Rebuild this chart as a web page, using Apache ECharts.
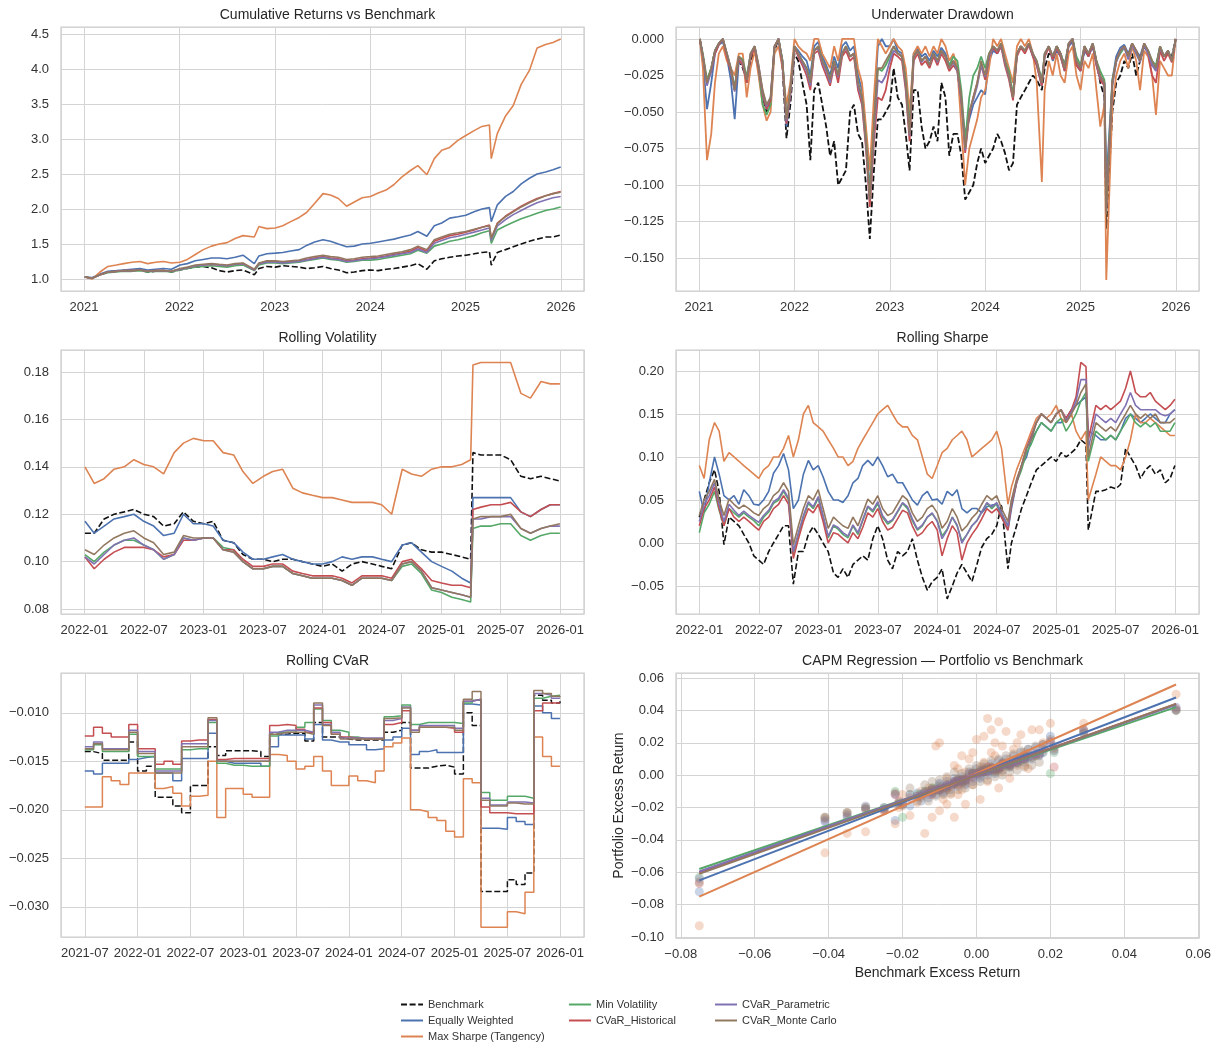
<!DOCTYPE html>
<html><head><meta charset="utf-8">
<script src="https://cdn.jsdelivr.net/npm/echarts@6/dist/echarts.min.js"></script>
<style>html,body{margin:0;padding:0;background:#fff}#c{width:1216px;height:1048px}</style>
</head><body><div id="c"></div><script>
const NAMES = ['Benchmark','Equally Weighted','Max Sharpe (Tangency)','Min Volatility','CVaR_Historical','CVaR_Parametric','CVaR_Monte Carlo'];
const COLORS = ['#111111','#4C72B0','#DD8452','#55A868','#C44E52','#8172B3','#937860'];

// ---------- Cumulative returns (monthly samples) ----------
const cumDates = ['2021-01-04','2021-02-01','2021-03-01','2021-04-01','2021-05-03','2021-06-01','2021-07-01','2021-08-02','2021-09-01','2021-10-01','2021-11-01','2021-12-01',
'2022-01-03','2022-02-01','2022-03-01','2022-04-01','2022-05-02','2022-06-01','2022-07-01','2022-08-01','2022-09-01','2022-10-14','2022-11-01','2022-12-01',
'2023-01-03','2023-02-01','2023-03-01','2023-04-03','2023-05-01','2023-06-01','2023-07-03','2023-08-01','2023-09-01','2023-10-02','2023-11-01','2023-12-01',
'2024-01-02','2024-02-01','2024-03-01','2024-04-01','2024-05-01','2024-06-03','2024-07-01','2024-08-05','2024-09-03','2024-10-01','2024-11-01','2024-12-02',
'2025-01-02','2025-02-03','2025-03-03','2025-04-01','2025-04-08','2025-05-01','2025-06-02','2025-07-01','2025-08-01','2025-09-02','2025-10-01','2025-11-03','2025-12-01','2025-12-31'];
const cumBench = [1.03,1.01,1.06,1.10,1.11,1.12,1.12,1.13,1.10,1.11,1.12,1.10, 1.13,1.15,1.17,1.18,1.16,1.12,1.10,1.12,1.13,1.06,1.15,1.18, 1.17,1.19,1.18,1.17,1.15,1.16,1.18,1.15,1.13,1.09,1.10,1.12, 1.13,1.12,1.14,1.15,1.17,1.19,1.22,1.14,1.26,1.29,1.31,1.33, 1.34,1.36,1.38,1.39,1.20,1.38,1.42,1.46,1.50,1.54,1.57,1.60,1.60,1.63];
const cumEW = [1.03,1.02,1.07,1.11,1.12,1.13,1.14,1.15,1.13,1.14,1.15,1.14, 1.20,1.22,1.26,1.28,1.30,1.30,1.29,1.31,1.34,1.22,1.33,1.36, 1.37,1.38,1.40,1.42,1.48,1.53,1.56,1.54,1.50,1.46,1.47,1.50, 1.51,1.53,1.55,1.57,1.60,1.63,1.68,1.61,1.76,1.80,1.87,1.89, 1.91,1.96,2.00,2.02,1.82,2.06,2.18,2.25,2.36,2.44,2.50,2.53,2.56,2.60];
const cumMS = [1.03,1.00,1.10,1.18,1.20,1.22,1.24,1.25,1.22,1.24,1.25,1.23, 1.24,1.28,1.35,1.42,1.47,1.50,1.52,1.58,1.62,1.60,1.75,1.72, 1.73,1.76,1.82,1.88,1.95,2.08,2.22,2.20,2.15,2.04,2.10,2.16, 2.18,2.23,2.27,2.35,2.46,2.55,2.62,2.49,2.72,2.84,2.88,2.98, 3.05,3.12,3.18,3.20,2.72,3.08,3.33,3.48,3.78,3.98,4.30,4.35,4.38,4.43];
const cumMV = [1.03,1.01,1.06,1.09,1.10,1.11,1.11,1.12,1.10,1.11,1.11,1.10, 1.13,1.15,1.17,1.18,1.19,1.18,1.17,1.19,1.20,1.12,1.20,1.23, 1.23,1.22,1.23,1.24,1.26,1.28,1.30,1.28,1.27,1.24,1.25,1.27, 1.27,1.28,1.30,1.32,1.34,1.36,1.41,1.37,1.47,1.50,1.54,1.56, 1.59,1.62,1.66,1.69,1.51,1.70,1.76,1.81,1.86,1.90,1.94,1.98,2.00,2.03];
const cumCH = [1.03,1.01,1.06,1.10,1.11,1.12,1.12,1.13,1.11,1.12,1.12,1.11, 1.14,1.16,1.19,1.20,1.21,1.20,1.19,1.21,1.22,1.13,1.22,1.25, 1.25,1.24,1.25,1.26,1.28,1.30,1.32,1.30,1.29,1.26,1.27,1.29, 1.30,1.31,1.33,1.35,1.37,1.40,1.45,1.40,1.54,1.58,1.62,1.64, 1.67,1.70,1.74,1.77,1.58,1.80,1.90,1.97,2.04,2.10,2.15,2.19,2.22,2.25];
const cumCP = [1.03,1.01,1.06,1.10,1.11,1.12,1.12,1.13,1.11,1.12,1.12,1.11, 1.14,1.16,1.19,1.20,1.21,1.20,1.19,1.21,1.22,1.13,1.22,1.24, 1.24,1.23,1.24,1.25,1.27,1.29,1.31,1.29,1.28,1.25,1.26,1.28, 1.29,1.30,1.32,1.34,1.36,1.38,1.43,1.38,1.51,1.55,1.59,1.61, 1.64,1.67,1.70,1.73,1.55,1.76,1.85,1.92,1.98,2.04,2.09,2.13,2.16,2.18];
const cumCM = [1.03,1.01,1.06,1.10,1.11,1.12,1.12,1.13,1.11,1.12,1.12,1.11, 1.15,1.17,1.20,1.21,1.22,1.21,1.20,1.22,1.23,1.14,1.23,1.26, 1.26,1.25,1.26,1.27,1.30,1.32,1.34,1.32,1.31,1.28,1.29,1.31, 1.32,1.33,1.35,1.37,1.39,1.42,1.47,1.42,1.56,1.60,1.64,1.66, 1.68,1.71,1.74,1.76,1.58,1.79,1.89,1.96,2.03,2.09,2.14,2.19,2.22,2.24];

// ---------- Semi-monthly dates (drawdown; rolling Sharpe uses from 2022) ----------
const semiDates = [
'2021-01-04','2021-01-16','2021-02-01','2021-02-16','2021-03-01','2021-03-16','2021-04-01','2021-04-16','2021-05-01','2021-05-16','2021-06-01','2021-06-16','2021-07-01','2021-07-16','2021-08-01','2021-08-16','2021-09-01','2021-09-16','2021-10-01','2021-10-16','2021-11-01','2021-11-16','2021-12-01','2021-12-16',
'2022-01-01','2022-01-16','2022-02-01','2022-02-16','2022-03-01','2022-03-16','2022-04-01','2022-04-16','2022-05-01','2022-05-16','2022-06-01','2022-06-16','2022-07-01','2022-07-16','2022-08-01','2022-08-16','2022-09-01','2022-09-16','2022-10-01','2022-10-16','2022-11-01','2022-11-16','2022-12-01','2022-12-16',
'2023-01-01','2023-01-16','2023-02-01','2023-02-16','2023-03-01','2023-03-16','2023-04-01','2023-04-16','2023-05-01','2023-05-16','2023-06-01','2023-06-16','2023-07-01','2023-07-16','2023-08-01','2023-08-16','2023-09-01','2023-09-16','2023-10-01','2023-10-16','2023-11-01','2023-11-16','2023-12-01','2023-12-16',
'2024-01-01','2024-01-16','2024-02-01','2024-02-16','2024-03-01','2024-03-16','2024-04-01','2024-04-16','2024-05-01','2024-05-16','2024-06-01','2024-06-16','2024-07-01','2024-07-16','2024-08-05','2024-08-16','2024-09-01','2024-09-16','2024-10-01','2024-10-16','2024-11-01','2024-11-16','2024-12-01','2024-12-16',
'2025-01-01','2025-01-16','2025-02-01','2025-02-16','2025-03-01','2025-03-16','2025-04-01','2025-04-08','2025-05-01','2025-05-16','2025-06-01','2025-06-16','2025-07-01','2025-07-16','2025-08-01','2025-08-16','2025-09-01','2025-09-16','2025-10-01','2025-10-16','2025-11-01','2025-11-16','2025-12-01','2025-12-16',
'2025-12-31'];

const ddBench = [0,-0.012,-0.030,-0.020,-0.008,-0.004,0,-0.012,-0.022,-0.035, -0.015,-0.020,-0.028,-0.015,-0.008,-0.022,-0.040,-0.050,-0.045,-0.008, 0,-0.020,-0.068,-0.045,-0.010,-0.015,-0.030,-0.045,-0.083,-0.035, -0.030,-0.045,-0.060,-0.080,-0.070,-0.100,-0.095,-0.090,-0.050,-0.045, -0.065,-0.070,-0.100,-0.137,-0.090,-0.055,-0.055,-0.050,-0.045,-0.020, -0.040,-0.045,-0.065,-0.090,-0.035,-0.035,-0.060,-0.075,-0.070,-0.060, -0.070,-0.030,-0.040,-0.080,-0.065,-0.065,-0.080,-0.110,-0.105,-0.100, -0.085,-0.075,-0.085,-0.080,-0.075,-0.065,-0.070,-0.078,-0.090,-0.085, -0.045,-0.040,-0.035,-0.030,-0.025,-0.028,-0.035,-0.020,-0.010,-0.012, -0.005,-0.010,-0.018,-0.004,0,-0.015,-0.020,-0.008,-0.010,-0.005, -0.015,-0.030,-0.040,-0.130,-0.050,-0.030,-0.025,-0.015,-0.020,-0.010, -0.025,-0.015,-0.005,-0.010,-0.018,-0.020,-0.008,-0.012,-0.010,-0.012, 0];
const ddEW = [0,-0.015,-0.048,-0.030,-0.010,-0.004,-0.002,-0.012,-0.028,-0.055, -0.015,-0.018,-0.030,-0.012,-0.006,-0.020,-0.038,-0.048,-0.042,-0.006, 0,-0.015,-0.060,-0.038,-0.005,-0.008,-0.012,-0.015,-0.025,-0.005, -0.002,-0.012,-0.018,-0.025,-0.012,-0.020,-0.005,-0.002,-0.008,-0.005, -0.025,-0.035,-0.065,-0.105,-0.050,-0.005,0,-0.005,-0.005,0, -0.008,-0.010,-0.025,-0.060,-0.010,-0.006,-0.012,-0.010,-0.015,-0.008, -0.012,-0.006,-0.010,-0.018,-0.015,-0.020,-0.045,-0.065,-0.055,-0.045, -0.040,-0.035,-0.038,-0.015,-0.008,-0.010,-0.005,-0.015,-0.025,-0.040, -0.010,-0.005,-0.008,-0.004,-0.012,-0.018,-0.032,-0.012,-0.005,-0.015, -0.008,-0.012,-0.022,-0.005,-0.002,-0.018,-0.022,-0.008,-0.012,-0.005, -0.018,-0.028,-0.030,-0.100,-0.028,-0.012,-0.006,-0.004,-0.010,-0.003, -0.008,-0.012,-0.003,-0.008,-0.018,-0.020,-0.005,-0.012,-0.008,-0.015, 0];
const ddMS = [0,-0.020,-0.083,-0.065,-0.030,-0.010,-0.005,-0.015,-0.020,-0.025, -0.010,-0.010,-0.040,-0.020,-0.008,-0.025,-0.045,-0.056,-0.050,-0.010, -0.005,-0.020,-0.045,-0.030,0,-0.005,-0.008,-0.010,-0.015,0, 0,-0.010,-0.015,-0.020,-0.005,-0.015,0,0,0,0, -0.020,-0.030,-0.060,-0.090,-0.040,0,-0.005,-0.010,-0.005,0, -0.005,-0.008,-0.020,-0.050,-0.010,-0.005,-0.010,-0.005,-0.012,-0.005, -0.010,0,-0.005,-0.015,-0.010,-0.020,-0.060,-0.100,-0.075,-0.065, -0.055,-0.040,-0.035,-0.020,0,-0.005,0,-0.010,-0.020,-0.030, -0.005,0,-0.005,0,-0.010,-0.030,-0.098,-0.035,-0.015,-0.025, -0.010,-0.025,-0.030,-0.010,-0.005,-0.025,-0.035,-0.015,-0.020,-0.010, -0.035,-0.060,-0.045,-0.165,-0.045,-0.025,-0.015,-0.010,-0.020,-0.005, -0.015,-0.035,-0.008,-0.012,-0.025,-0.052,-0.015,-0.020,-0.025,-0.025, 0];
const ddMV = [0,-0.010,-0.028,-0.020,-0.008,-0.003,0,-0.010,-0.020,-0.033, -0.012,-0.014,-0.026,-0.010,-0.005,-0.020,-0.045,-0.052,-0.045,-0.006, 0,-0.015,-0.055,-0.035,-0.005,-0.010,-0.015,-0.020,-0.028,-0.008, -0.005,-0.015,-0.020,-0.028,-0.015,-0.025,-0.010,-0.005,-0.012,-0.010, -0.030,-0.040,-0.068,-0.105,-0.060,-0.020,-0.022,-0.018,-0.012,-0.005, -0.010,-0.012,-0.028,-0.060,-0.012,-0.008,-0.015,-0.012,-0.018,-0.010, -0.015,-0.008,-0.012,-0.018,-0.012,-0.015,-0.035,-0.070,-0.040,-0.025, -0.020,-0.012,-0.020,-0.010,-0.005,-0.008,-0.003,-0.015,-0.022,-0.038, -0.010,-0.005,-0.008,-0.003,-0.010,-0.015,-0.028,-0.010,-0.005,-0.012, -0.005,-0.010,-0.018,-0.003,0,-0.012,-0.018,-0.005,-0.010,-0.003, -0.015,-0.022,-0.028,-0.110,-0.028,-0.015,-0.010,-0.006,-0.012,-0.004, -0.010,-0.015,-0.004,-0.008,-0.015,-0.018,-0.005,-0.012,-0.008,-0.014, 0];
const ddCH = [0,-0.012,-0.030,-0.022,-0.010,-0.004,0,-0.012,-0.022,-0.035, -0.014,-0.018,-0.030,-0.012,-0.006,-0.020,-0.038,-0.048,-0.042,-0.006, 0,-0.018,-0.058,-0.038,-0.006,-0.012,-0.018,-0.025,-0.035,-0.010, -0.008,-0.018,-0.025,-0.032,-0.018,-0.030,-0.012,-0.008,-0.015,-0.012, -0.035,-0.045,-0.075,-0.115,-0.070,-0.040,-0.042,-0.035,-0.020,-0.010, -0.012,-0.015,-0.035,-0.070,-0.015,-0.010,-0.018,-0.015,-0.020,-0.012, -0.018,-0.010,-0.015,-0.022,-0.018,-0.022,-0.042,-0.078,-0.052,-0.040, -0.030,-0.018,-0.028,-0.012,-0.006,-0.010,-0.005,-0.018,-0.028,-0.042, -0.012,-0.006,-0.010,-0.004,-0.012,-0.018,-0.032,-0.012,-0.006,-0.014, -0.006,-0.012,-0.022,-0.004,0,-0.018,-0.022,-0.006,-0.012,-0.004, -0.018,-0.028,-0.032,-0.118,-0.030,-0.015,-0.008,-0.005,-0.012,-0.003, -0.008,-0.015,-0.003,-0.010,-0.025,-0.030,-0.008,-0.015,-0.010,-0.016, 0];
const ddCP = [0,-0.012,-0.032,-0.022,-0.008,-0.003,0,-0.010,-0.020,-0.036, -0.012,-0.016,-0.028,-0.010,-0.005,-0.018,-0.036,-0.046,-0.040,-0.005, 0,-0.016,-0.056,-0.036,-0.005,-0.010,-0.016,-0.022,-0.032,-0.008, -0.006,-0.016,-0.022,-0.030,-0.016,-0.026,-0.010,-0.006,-0.012,-0.010, -0.032,-0.042,-0.072,-0.110,-0.065,-0.028,-0.030,-0.025,-0.015,-0.008, -0.010,-0.012,-0.032,-0.066,-0.012,-0.008,-0.016,-0.012,-0.018,-0.010, -0.016,-0.008,-0.012,-0.020,-0.016,-0.022,-0.042,-0.076,-0.050,-0.042, -0.032,-0.018,-0.026,-0.012,-0.005,-0.008,-0.004,-0.016,-0.026,-0.040, -0.010,-0.005,-0.008,-0.003,-0.010,-0.016,-0.030,-0.010,-0.005,-0.012, -0.005,-0.010,-0.020,-0.003,0,-0.015,-0.020,-0.005,-0.010,-0.003, -0.016,-0.026,-0.030,-0.115,-0.032,-0.016,-0.008,-0.006,-0.014,-0.004, -0.010,-0.016,-0.004,-0.010,-0.018,-0.022,-0.006,-0.012,-0.008,-0.015, 0];
const ddCM = [0,-0.012,-0.030,-0.020,-0.008,-0.003,0,-0.010,-0.020,-0.035, -0.012,-0.015,-0.028,-0.010,-0.005,-0.018,-0.035,-0.045,-0.040,-0.005, 0,-0.015,-0.055,-0.035,-0.005,-0.010,-0.015,-0.020,-0.030,-0.008, -0.005,-0.015,-0.020,-0.028,-0.015,-0.025,-0.010,-0.005,-0.012,-0.010, -0.030,-0.040,-0.070,-0.110,-0.060,-0.020,-0.020,-0.015,-0.010,-0.005, -0.010,-0.012,-0.030,-0.065,-0.012,-0.008,-0.015,-0.012,-0.018,-0.010, -0.015,-0.008,-0.012,-0.020,-0.015,-0.020,-0.040,-0.075,-0.050,-0.040, -0.030,-0.015,-0.025,-0.010,-0.005,-0.008,-0.003,-0.015,-0.025,-0.040, -0.010,-0.005,-0.008,-0.003,-0.010,-0.015,-0.030,-0.010,-0.005,-0.012, -0.005,-0.010,-0.020,-0.003,0,-0.015,-0.020,-0.005,-0.010,-0.003, -0.015,-0.025,-0.030,-0.120,-0.030,-0.015,-0.008,-0.005,-0.012,-0.003, -0.008,-0.015,-0.003,-0.008,-0.015,-0.020,-0.005,-0.012,-0.008,-0.015, 0];

// ---------- Rolling volatility ----------
const volDates = ['2022-01-03','2022-02-01','2022-03-01','2022-04-01','2022-05-02','2022-06-01','2022-07-01','2022-08-01','2022-09-01','2022-10-03','2022-11-01','2022-12-01',
'2023-01-03','2023-02-01','2023-03-01','2023-04-03','2023-05-01','2023-06-01','2023-07-03','2023-08-01','2023-09-01','2023-10-02','2023-11-01','2023-12-01',
'2024-01-02','2024-02-01','2024-03-01','2024-04-01','2024-05-01','2024-06-03','2024-07-01','2024-08-01','2024-09-03','2024-10-01','2024-11-01','2024-12-02',
'2025-01-02','2025-02-03','2025-03-03','2025-03-31','2025-04-07','2025-05-01','2025-06-02','2025-07-01','2025-08-01','2025-09-02','2025-10-01','2025-11-03','2025-12-01','2025-12-31'];
const volBench = [0.112,0.112,0.118,0.120,0.121,0.122,0.120,0.119,0.115,0.116, 0.121,0.117,0.116,0.117,0.109,0.108,0.103,0.101,0.101,0.100, 0.101,0.101,0.100,0.099,0.098,0.099,0.096,0.099,0.100,0.099, 0.098,0.097,0.107,0.108,0.105,0.104,0.104,0.103,0.102, 0.101,0.146, 0.145,0.145,0.145,0.143,0.136,0.135,0.136,0.135, 0.134];
const volEW = [0.117,0.112,0.115,0.118,0.119,0.120,0.117,0.115,0.111,0.112, 0.120,0.116,0.116,0.115,0.109,0.108,0.104,0.101,0.101,0.102, 0.103,0.101,0.100,0.099,0.099,0.100,0.102,0.101,0.102,0.102, 0.101,0.100,0.107,0.108,0.104,0.100,0.098,0.096,0.093, 0.091,0.127, 0.127,0.127,0.127,0.127,0.121,0.119,0.122,0.124, 0.124];
const volMS = [0.140,0.133,0.135,0.139,0.140,0.143,0.141,0.140,0.137,0.146, 0.150,0.152,0.151,0.151,0.146,0.145,0.138,0.133,0.136,0.138, 0.139,0.131,0.129,0.128,0.127,0.127,0.126,0.125,0.125,0.125, 0.124,0.120,0.139,0.137,0.136,0.139,0.140,0.140,0.141, 0.143,0.183, 0.184,0.184,0.184,0.184,0.171,0.169,0.176,0.175, 0.175];
const volMV = [0.103,0.100,0.104,0.107,0.109,0.109,0.107,0.105,0.101,0.103, 0.110,0.109,0.110,0.110,0.106,0.105,0.100,0.097,0.097,0.098, 0.098,0.095,0.094,0.093,0.093,0.093,0.092,0.090,0.093,0.093, 0.093,0.092,0.098,0.099,0.095,0.088,0.087,0.085,0.084, 0.083,0.114, 0.115,0.115,0.116,0.116,0.111,0.109,0.111,0.112, 0.112];
const volCH = [0.102,0.097,0.101,0.104,0.106,0.106,0.106,0.105,0.102,0.103, 0.109,0.109,0.110,0.110,0.105,0.105,0.101,0.098,0.098,0.099, 0.099,0.096,0.095,0.094,0.094,0.094,0.093,0.091,0.094,0.094, 0.094,0.093,0.100,0.101,0.097,0.092,0.091,0.090,0.090, 0.089,0.122, 0.123,0.124,0.124,0.125,0.121,0.119,0.122,0.124, 0.124];
const volCP = [0.102,0.099,0.103,0.107,0.109,0.110,0.107,0.105,0.101,0.103, 0.110,0.109,0.110,0.110,0.105,0.104,0.100,0.097,0.097,0.098, 0.098,0.095,0.094,0.093,0.093,0.093,0.092,0.090,0.093,0.093, 0.093,0.092,0.099,0.100,0.096,0.089,0.088,0.087,0.086, 0.085,0.118, 0.118,0.119,0.119,0.119,0.114,0.112,0.114,0.115, 0.115];
const volCM = [0.105,0.103,0.107,0.110,0.112,0.113,0.110,0.108,0.103,0.104, 0.111,0.110,0.110,0.110,0.105,0.104,0.100,0.097,0.097,0.098, 0.098,0.095,0.094,0.093,0.093,0.093,0.092,0.090,0.093,0.093, 0.093,0.092,0.099,0.100,0.096,0.089,0.088,0.087,0.086, 0.085,0.118, 0.119,0.119,0.119,0.120,0.114,0.112,0.114,0.115, 0.116];

// ---------- Rolling Sharpe (semi-monthly from 2022) ----------
const shBench = [0.030,0.050,0.070,0.085,0.060,-0.002,0.030,0.025,0.020,0.010, 0.000,-0.015,-0.020,-0.025,-0.010,0.000,0.010,0.020,0.020,-0.048, -0.010,-0.010,0.010,0.019,0.010,0.000,-0.010,-0.035,-0.040,-0.030, -0.040,-0.025,-0.020,-0.015,-0.020,0.005,0.020,0.005,-0.020,-0.030, -0.010,-0.015,-0.010,0.005,-0.020,-0.040,-0.055,-0.045,-0.040,-0.030, -0.065,-0.050,-0.035,-0.025,-0.035,-0.045,-0.025,-0.005,0.005,0.010, 0.020,0.045,-0.030,0.000,0.020,0.040,0.055,0.070,0.085,0.090, 0.095,0.100,0.095,0.105,0.100,0.105,0.110,0.120,0.115,0.015, 0.060,0.060,0.062,0.065,0.063,0.068,0.110,0.100,0.090,0.075, 0.085,0.090,0.080,0.085,0.070,0.075,0.090];
const shEW = [0.060,0.035,0.070,0.100,0.080,0.055,0.050,0.055,0.045,0.062, 0.055,0.045,0.044,0.050,0.060,0.081,0.090,0.104,0.085,0.040, 0.050,0.080,0.096,0.085,0.090,0.077,0.060,0.050,0.050,0.047, 0.055,0.070,0.075,0.090,0.096,0.090,0.100,0.090,0.077,0.080, 0.070,0.070,0.060,0.050,0.044,0.055,0.060,0.050,0.051,0.045, 0.060,0.055,0.062,0.040,0.035,0.040,0.040,0.035,0.042,0.044, 0.045,0.030,0.015,0.040,0.070,0.090,0.100,0.120,0.130,0.140, 0.135,0.130,0.140,0.140,0.145,0.155,0.160,0.165,0.170,0.130, 0.125,0.120,0.120,0.125,0.120,0.130,0.145,0.150,0.145,0.140, 0.145,0.150,0.145,0.140,0.140,0.150,0.155];
const shMS = [0.090,0.075,0.120,0.140,0.130,0.095,0.105,0.100,0.095,0.090, 0.085,0.080,0.075,0.085,0.090,0.100,0.100,0.110,0.125,0.100, 0.120,0.150,0.160,0.140,0.135,0.130,0.120,0.110,0.100,0.100, 0.090,0.095,0.110,0.120,0.130,0.140,0.150,0.155,0.160,0.150, 0.140,0.135,0.135,0.125,0.120,0.100,0.080,0.075,0.090,0.105, 0.110,0.120,0.125,0.130,0.120,0.100,0.105,0.110,0.115,0.120, 0.130,0.110,0.045,0.065,0.085,0.100,0.115,0.130,0.145,0.150, 0.145,0.150,0.160,0.145,0.140,0.150,0.130,0.120,0.130,0.050, 0.080,0.100,0.095,0.090,0.090,0.085,0.100,0.120,0.150,0.140, 0.140,0.145,0.140,0.135,0.130,0.125,0.125];
const shMV = [0.012,0.035,0.045,0.060,0.038,0.020,0.040,0.035,0.030,0.035, 0.030,0.026,0.020,0.030,0.036,0.046,0.050,0.060,0.050,-0.012, 0.010,0.030,0.046,0.040,0.052,0.030,0.006,0.020,0.016,0.010, 0.006,0.020,0.010,0.026,0.042,0.036,0.046,0.030,0.022,0.026, 0.036,0.046,0.040,0.026,0.015,0.020,0.030,0.034,0.026,0.008, 0.016,0.030,0.020,0.002,0.010,0.020,0.026,0.036,0.046,0.040, 0.046,0.034,0.020,0.045,0.070,0.085,0.105,0.115,0.130,0.140, 0.135,0.130,0.140,0.145,0.130,0.140,0.150,0.165,0.175,0.095, 0.130,0.125,0.120,0.125,0.120,0.130,0.140,0.150,0.140,0.135, 0.140,0.135,0.140,0.130,0.130,0.130,0.140];
const shCH = [0.020,0.040,0.050,0.065,0.040,0.020,0.040,0.030,0.025,0.030, 0.025,0.020,0.015,0.025,0.030,0.040,0.045,0.055,0.045,-0.018, 0.005,0.025,0.040,0.035,0.045,0.025,0.000,0.012,0.010,0.005, 0.000,0.012,0.005,0.018,0.035,0.030,0.040,0.025,0.015,0.018, 0.028,0.038,0.035,0.020,0.008,0.012,0.020,0.025,0.015,-0.015, 0.005,0.020,0.012,-0.020,0.000,0.010,0.018,0.028,0.040,0.035, 0.040,0.030,0.015,0.045,0.070,0.090,0.110,0.125,0.140,0.150, 0.145,0.140,0.150,0.155,0.145,0.155,0.170,0.210,0.205,0.120, 0.160,0.155,0.160,0.155,0.160,0.165,0.180,0.200,0.175,0.170, 0.170,0.175,0.165,0.160,0.155,0.160,0.167];
const shCP = [0.025,0.045,0.055,0.070,0.045,0.025,0.045,0.038,0.032,0.037, 0.032,0.028,0.024,0.032,0.038,0.048,0.052,0.062,0.052,-0.010, 0.012,0.032,0.048,0.042,0.054,0.032,0.008,0.021,0.018,0.012, 0.008,0.021,0.012,0.027,0.043,0.038,0.048,0.032,0.024,0.027, 0.037,0.047,0.042,0.028,0.016,0.021,0.030,0.035,0.025,0.005, 0.015,0.030,0.021,0.000,0.010,0.020,0.026,0.036,0.047,0.042, 0.047,0.035,0.020,0.048,0.072,0.090,0.110,0.122,0.140,0.150, 0.145,0.140,0.150,0.155,0.142,0.152,0.165,0.190,0.190,0.110, 0.150,0.145,0.140,0.145,0.140,0.150,0.160,0.175,0.160,0.155, 0.155,0.155,0.155,0.150,0.148,0.150,0.155];
const shCM = [0.032,0.050,0.060,0.074,0.050,0.032,0.051,0.045,0.040,0.044, 0.040,0.035,0.032,0.040,0.045,0.055,0.060,0.070,0.060,-0.002, 0.020,0.040,0.055,0.050,0.062,0.040,0.017,0.030,0.025,0.020, 0.017,0.030,0.020,0.035,0.051,0.045,0.055,0.040,0.032,0.035, 0.045,0.055,0.050,0.035,0.025,0.030,0.040,0.044,0.035,0.017, 0.025,0.040,0.030,0.014,0.020,0.029,0.035,0.045,0.055,0.050, 0.055,0.040,0.025,0.050,0.074,0.090,0.110,0.120,0.140,0.150, 0.145,0.140,0.150,0.155,0.140,0.150,0.160,0.175,0.185,0.100, 0.140,0.135,0.130,0.135,0.130,0.140,0.150,0.160,0.150,0.145, 0.150,0.145,0.150,0.140,0.140,0.140,0.145];

// ---------- Rolling CVaR (monthly, step) ----------
const cvDates = ['2021-07-01','2021-08-01','2021-09-01','2021-10-01','2021-11-01','2021-12-01',
'2022-01-01','2022-02-01','2022-03-01','2022-04-01','2022-05-01','2022-06-01','2022-07-01','2022-08-01','2022-09-01','2022-10-01','2022-11-01','2022-12-01',
'2023-01-01','2023-02-01','2023-03-01','2023-04-01','2023-05-01','2023-06-01','2023-07-01','2023-08-01','2023-09-01','2023-10-01','2023-11-01','2023-12-01',
'2024-01-01','2024-02-01','2024-03-01','2024-04-01','2024-05-01','2024-06-01','2024-07-01','2024-08-01','2024-09-01','2024-10-01','2024-11-01','2024-12-01',
'2025-01-01','2025-02-01','2025-03-01','2025-04-01','2025-05-01','2025-06-01','2025-07-01','2025-08-01','2025-09-01','2025-10-01','2025-11-01','2025-12-01','2025-12-31'];
const cvBench = [-0.0140,-0.0142,-0.0149,-0.0149,-0.0149,-0.0130,-0.0160,-0.0155,-0.0187,-0.0187, -0.0196,-0.0203,-0.0175,-0.0175,-0.0135,-0.0144,-0.0139,-0.0139,-0.0139,-0.0140, -0.0145,-0.0122,-0.0122,-0.0121,-0.0121,-0.0129,-0.0110,-0.0125,-0.0125,-0.0127, -0.0128,-0.0128,-0.0128,-0.0128,-0.0120,-0.0118,-0.0110,-0.0157,-0.0157,-0.0155, -0.0154,-0.0156,-0.0163,-0.0100,-0.0113,-0.0284,-0.0284,-0.0284,-0.0272,-0.0277, -0.0265,-0.0082,-0.0087,-0.0090,-0.0088];
const cvEW = [-0.0160,-0.0163,-0.0152,-0.0152,-0.0152,-0.0148,-0.0146,-0.0145,-0.0162,-0.0162, -0.0170,-0.0147,-0.0147,-0.0147,-0.0121,-0.0150,-0.0152,-0.0152,-0.0152,-0.0152, -0.0155,-0.0135,-0.0123,-0.0123,-0.0123,-0.0127,-0.0112,-0.0128,-0.0130,-0.0130, -0.0133,-0.0133,-0.0138,-0.0137,-0.0128,-0.0125,-0.0116,-0.0143,-0.0140,-0.0138, -0.0141,-0.0141,-0.0141,-0.0091,-0.0092,-0.0219,-0.0219,-0.0220,-0.0208,-0.0212, -0.0215,-0.0093,-0.0100,-0.0106,-0.0106];
const cvMS = [-0.0197,-0.0197,-0.0166,-0.0170,-0.0174,-0.0162,-0.0162,-0.0162,-0.0178,-0.0176, -0.0183,-0.0196,-0.0186,-0.0185,-0.0150,-0.0208,-0.0178,-0.0178,-0.0184,-0.0187, -0.0187,-0.0143,-0.0144,-0.0150,-0.0158,-0.0155,-0.0145,-0.0160,-0.0175,-0.0175, -0.0165,-0.0170,-0.0172,-0.0160,-0.0135,-0.0131,-0.0126,-0.0200,-0.0202,-0.0208, -0.0211,-0.0222,-0.0228,-0.0168,-0.0172,-0.0321,-0.0321,-0.0321,-0.0305,-0.0307, -0.0285,-0.0125,-0.0145,-0.0155,-0.0155];
const cvMV = [-0.0138,-0.0133,-0.0140,-0.0140,-0.0140,-0.0122,-0.0145,-0.0145,-0.0158,-0.0158, -0.0158,-0.0138,-0.0137,-0.0137,-0.0110,-0.0152,-0.0154,-0.0154,-0.0155,-0.0155, -0.0155,-0.0124,-0.0120,-0.0120,-0.0115,-0.0110,-0.0096,-0.0108,-0.0118,-0.0120, -0.0125,-0.0127,-0.0127,-0.0127,-0.0104,-0.0103,-0.0092,-0.0112,-0.0110,-0.0110, -0.0110,-0.0110,-0.0111,-0.0090,-0.0087,-0.0182,-0.0190,-0.0190,-0.0186,-0.0186, -0.0188,-0.0085,-0.0083,-0.0082,-0.0082];
const cvCH = [-0.0124,-0.0115,-0.0121,-0.0125,-0.0125,-0.0112,-0.0137,-0.0137,-0.0153,-0.0150, -0.0153,-0.0129,-0.0128,-0.0128,-0.0107,-0.0148,-0.0147,-0.0147,-0.0147,-0.0147, -0.0147,-0.0113,-0.0112,-0.0113,-0.0117,-0.0120,-0.0095,-0.0110,-0.0122,-0.0125, -0.0126,-0.0127,-0.0127,-0.0127,-0.0112,-0.0110,-0.0098,-0.0118,-0.0115,-0.0115, -0.0115,-0.0116,-0.0120,-0.0088,-0.0086,-0.0197,-0.0203,-0.0203,-0.0204,-0.0204, -0.0204,-0.0098,-0.0090,-0.0090,-0.0090];
const cvCP = [-0.0135,-0.0130,-0.0137,-0.0137,-0.0137,-0.0118,-0.0140,-0.0140,-0.0160,-0.0160, -0.0160,-0.0132,-0.0132,-0.0132,-0.0108,-0.0150,-0.0150,-0.0150,-0.0150,-0.0150, -0.0150,-0.0120,-0.0118,-0.0118,-0.0118,-0.0120,-0.0092,-0.0112,-0.0120,-0.0126, -0.0126,-0.0126,-0.0126,-0.0126,-0.0108,-0.0106,-0.0094,-0.0118,-0.0113,-0.0113, -0.0113,-0.0113,-0.0116,-0.0088,-0.0086,-0.0188,-0.0195,-0.0195,-0.0192,-0.0192, -0.0193,-0.0080,-0.0082,-0.0085,-0.0085];
const cvCM = [-0.0137,-0.0132,-0.0138,-0.0138,-0.0138,-0.0120,-0.0142,-0.0142,-0.0162,-0.0162, -0.0162,-0.0135,-0.0135,-0.0135,-0.0105,-0.0150,-0.0150,-0.0150,-0.0150,-0.0150, -0.0150,-0.0122,-0.0120,-0.0120,-0.0120,-0.0122,-0.0090,-0.0113,-0.0122,-0.0127, -0.0127,-0.0127,-0.0127,-0.0127,-0.0106,-0.0105,-0.0095,-0.0120,-0.0115,-0.0115, -0.0115,-0.0115,-0.0118,-0.0086,-0.0078,-0.0190,-0.0196,-0.0196,-0.0193,-0.0194, -0.0194,-0.0077,-0.0080,-0.0083,-0.0084];

// ---------- CAPM regression ----------
const capmX = [-0.075,-0.041,-0.035,-0.030,-0.025,-0.022,-0.021,-0.020,-0.018,-0.016, -0.015,-0.014,-0.013,-0.012,-0.011,-0.010,-0.009,-0.008,-0.007,-0.006, -0.005,-0.004,-0.003,-0.002,-0.001,0.000,0.001,0.002,0.003,0.004, 0.005,0.006,0.007,0.008,0.009,0.010,0.011,0.012,0.013,0.014, 0.015,0.016,0.017,0.018,0.020,0.021,0.029,0.054,-0.012,-0.008, -0.005,-0.003,-0.001,0.001,0.003,0.005,0.007,0.009,0.011,0.004, -0.006,-0.010,0.002,0.006,0.013,-0.004];
const capmEW = [-0.072,-0.029,-0.026,-0.021,-0.021,-0.028,-0.018,-0.018,-0.019,-0.011, -0.016,-0.010,-0.014,-0.009,-0.012,-0.005,-0.011,-0.004,-0.009,-0.002, -0.007,-0.001,-0.006,0.002,-0.004,0.004,-0.002,0.005,0.000,0.007, 0.001,0.009,0.003,0.010,0.005,0.012,0.007,0.014,0.008,0.016, 0.010,0.017,0.012,0.019,0.024,0.018,0.028,0.042,-0.010,-0.007, -0.004,-0.002,0.001,0.002,0.003,0.004,0.007,0.007,0.010,0.004, -0.005,-0.009,0.002,0.005,0.012,-0.003];
const capmMS = [-0.093,-0.048,-0.036,-0.035,-0.022,-0.030,-0.020,-0.012,-0.025,-0.017, -0.010,-0.036,-0.008,-0.026,0.018,0.020,-0.015,-0.002,-0.012,-0.026, 0.004,-0.009,-0.018,0.010,-0.006,0.022,-0.015,0.008,0.035,0.028, 0.012,0.033,0.002,0.027,0.010,0.016,0.006,0.025,0.014,0.004, 0.028,0.012,0.028,0.020,0.032,0.017,0.032,0.050,-0.010,-0.018, -0.012,0.002,0.014,0.005,-0.004,0.020,0.018,-0.002,0.020,0.014, 0.006,-0.022,0.024,-0.008,0.006,0.012];
const capmMV = [-0.063,-0.026,-0.023,-0.020,-0.020,-0.010,-0.017,-0.026,-0.012,-0.012, -0.012,-0.010,-0.010,-0.011,-0.008,-0.007,-0.008,-0.006,-0.006,-0.004, -0.004,-0.003,-0.003,0.000,-0.001,0.001,0.000,0.002,0.002,0.003, 0.004,0.005,0.005,0.006,0.007,0.008,0.008,0.009,0.010,0.011, 0.011,0.012,0.013,0.014,0.001,0.014,0.026,0.040,-0.008,-0.007, -0.003,-0.003,0.001,0.002,0.003,0.003,0.006,0.006,0.008,0.004, -0.005,-0.008,0.002,0.004,0.010,-0.004];
const capmCH = [-0.067,-0.026,-0.023,-0.021,-0.022,-0.012,-0.016,-0.018,-0.014,-0.013, -0.013,-0.011,-0.010,-0.012,-0.009,-0.008,-0.008,-0.006,-0.007,-0.004, -0.006,-0.003,-0.003,-0.001,-0.001,0.001,0.001,0.002,0.002,0.005, 0.004,0.005,0.005,0.007,0.007,0.008,0.008,0.010,0.010,0.013, 0.011,0.013,0.013,0.016,0.021,0.005,0.028,0.041,-0.009,-0.008, -0.003,-0.003,0.001,0.002,0.005,0.003,0.007,0.006,0.009,0.004, -0.005,-0.009,0.003,0.004,0.011,-0.004];
const capmCP = [-0.064,-0.028,-0.025,-0.019,-0.020,-0.012,-0.018,-0.017,-0.012,-0.013, -0.012,-0.011,-0.012,-0.011,-0.009,-0.006,-0.010,-0.006,-0.006,-0.004, -0.004,-0.003,-0.005,0.001,-0.002,0.001,-0.001,0.003,0.002,0.003, 0.004,0.005,0.006,0.007,0.006,0.008,0.008,0.010,0.010,0.011, 0.012,0.013,0.013,0.014,0.020,0.015,0.026,0.040,-0.009,-0.007, -0.003,-0.003,0.001,0.002,0.003,0.003,0.007,0.006,0.009,0.004, -0.005,-0.009,0.003,0.004,0.011,-0.004];
const capmCM = [-0.066,-0.027,-0.024,-0.020,-0.021,-0.011,-0.017,-0.019,-0.008,-0.016, -0.014,-0.006,-0.016,-0.004,-0.013,-0.003,-0.012,-0.001,-0.011,0.002, -0.009,0.001,-0.008,0.004,-0.006,0.006,-0.004,0.007,-0.003,0.009, -0.001,0.010,0.000,0.012,0.002,0.013,0.003,0.015,0.005,0.016, 0.006,0.018,0.008,0.019,0.022,0.016,0.027,0.040,-0.008,-0.009, -0.002,-0.004,0.002,0.003,0.004,0.002,0.008,0.005,0.010,0.005, -0.006,-0.010,0.004,0.003,0.012,-0.005];
const regX = [-0.075, 0.054];
const regEW = [-0.065, 0.048];
const regMS = [-0.075, 0.056];
const regMV = [-0.058, 0.042];
const regCH = [-0.060, 0.044];
const regCP = [-0.0595, 0.0435];
const regCM = [-0.061, 0.044];

// ---------- helpers ----------
const FONT = '"Liberation Sans", Arial, Helvetica, sans-serif';
const TXT = '#333333';
const GRIDC = '#d4d4d4';
function toM(d) {
  const p = d.split('-').map(Number);
  const dim = new Date(Date.UTC(p[0], p[1], 0)).getUTCDate();
  return (p[0] - 2021) * 12 + (p[1] - 1) + (p[2] - 1) / dim;
}
function fmtNum(v, dec) {
  const s = Math.abs(v) < 1e-12 ? (0).toFixed(dec) : v.toFixed(dec);
  return s.replace('-', '\u2212');
}
function yearLabel(v) {
  const r = Math.round(v);
  if (Math.abs(v - r) > 1e-6 || r % 12 !== 0) return '';
  return String(2021 + r / 12);
}
function ymLabel(v) {
  const r = Math.round(v);
  if (Math.abs(v - r) > 1e-6 || r % 6 !== 0) return '';
  const y = 2021 + Math.floor(r / 12), m = r % 12 + 1;
  return y + '-' + (m < 10 ? '0' : '') + m;
}
function axisBase(idx, min, max, step, formatter, margin) {
  return {
    type: 'value', gridIndex: idx, min: min, max: max, minInterval: step, maxInterval: step,
    axisLine: { show: false }, axisTick: { show: false },
    splitLine: { show: true, lineStyle: { color: GRIDC, width: 1 } },
    axisLabel: { color: TXT, fontSize: 13, fontFamily: FONT, margin: margin,
      showMinLabel: false, showMaxLabel: false, formatter: formatter }
  };
}
function xAx(idx, min, max, step, fmt) { return axisBase(idx, min, max, step, fmt, 10); }
function yAx(idx, min, max, step, dec) { return axisBase(idx, min, max, step, v => fmtNum(v, dec), 12); }

function tsSeries(idx, dates, arrs, width, step) {
  const xs = dates.map(toM);
  return arrs.map((arr, i) => ({
    name: NAMES[i], type: 'line', xAxisIndex: idx, yAxisIndex: idx,
    data: arr.map((v, j) => [xs[j], v]),
    symbol: 'none', showSymbol: false, step: step || false, silent: true,
    lineStyle: { color: COLORS[i], width: width, type: i === 0 ? [6, 2.6] : 'solid' },
    itemStyle: { color: COLORS[i] }
  }));
}

const sharpeDates = semiDates.slice(24);
let series = [];
series = series.concat(tsSeries(0, cumDates, [cumBench, cumEW, cumMS, cumMV, cumCH, cumCP, cumCM], 1.6));
series = series.concat(tsSeries(1, semiDates, [ddBench, ddEW, ddMS, ddMV, ddCH, ddCP, ddCM], 1.8));
series = series.concat(tsSeries(2, volDates, [volBench, volEW, volMS, volMV, volCH, volCP, volCM], 1.6));
series = series.concat(tsSeries(3, sharpeDates, [shBench, shEW, shMS, shMV, shCH, shCP, shCM], 1.6));
series = series.concat(tsSeries(4, cvDates, [cvBench, cvEW, cvMS, cvMV, cvCH, cvCP, cvCM], 1.5, 'end'));

const capmYs = [capmEW, capmMS, capmMV, capmCH, capmCP, capmCM];
const regYs = [regEW, regMS, regMV, regCH, regCP, regCM];
capmYs.forEach((ys, k) => {
  const i = k + 1;
  series.push({
    name: NAMES[i], type: 'scatter', xAxisIndex: 5, yAxisIndex: 5, silent: true,
    data: capmX.map((x, j) => [x, ys[j]]), symbolSize: 9,
    itemStyle: { color: COLORS[i], opacity: 0.3 }
  });
  series.push({
    name: NAMES[i], type: 'line', xAxisIndex: 5, yAxisIndex: 5, silent: true,
    data: regX.map((x, j) => [x, regYs[k][j]]), symbol: 'none',
    lineStyle: { color: COLORS[i], width: 2 }, itemStyle: { color: COLORS[i] }
  });
});

const gridStyle = { show: true, borderColor: '#cccccc', borderWidth: 1.25, backgroundColor: '#ffffff' };
const grids = [
  { left: 61, top: 27, width: 523, height: 264 },
  { left: 676, top: 27, width: 523, height: 264 },
  { left: 61, top: 350, width: 523, height: 264 },
  { left: 676, top: 350, width: 523, height: 264 },
  { left: 61, top: 673, width: 523, height: 264 },
  { left: 676, top: 673, width: 523, height: 265 }
].map(g => Object.assign({}, gridStyle, g));

const titleStyle = { fontSize: 14, fontWeight: 'normal', color: '#262626', fontFamily: FONT };
const titles = [
  ['Cumulative Returns vs Benchmark', 322.5, 3],
  ['Underwater Drawdown', 937.5, 3],
  ['Rolling Volatility', 322.5, 326],
  ['Rolling Sharpe', 937.5, 326],
  ['Rolling CVaR', 322.5, 649],
  ['CAPM Regression \u2014 Portfolio vs Benchmark', 937.5, 649]
].map(t => ({ text: t[0], left: t[1], top: t[2], textAlign: 'center', textStyle: titleStyle }));

const x6 = xAx(5, -0.0813, 0.0602, 0.02, v => fmtNum(v, 2));
Object.assign(x6, { name: 'Benchmark Excess Return', nameLocation: 'middle', nameGap: 28,
  nameTextStyle: { fontSize: 14, color: '#262626', fontFamily: FONT } });
const y6 = yAx(5, -0.1006, 0.0631, 0.02, 2);
Object.assign(y6, { name: 'Portfolio Excess Return', nameLocation: 'middle', nameGap: 50,
  nameTextStyle: { fontSize: 14, color: '#262626', fontFamily: FONT } });

const legendBase = { orient: 'vertical', itemWidth: 22, itemHeight: 10, itemGap: 3, height: 60,
  itemStyle: { color: 'rgba(0,0,0,0)', borderWidth: 0, opacity: 0 },
  textStyle: { fontSize: 11, lineHeight: 13, color: TXT, fontFamily: FONT }, selectedMode: false };
const legends = [
  Object.assign({}, legendBase, { data: NAMES.slice(0, 3), left: 395, top: 993 }),
  Object.assign({}, legendBase, { data: NAMES.slice(3, 5), left: 563, top: 993 }),
  Object.assign({}, legendBase, { data: NAMES.slice(5, 7), left: 709, top: 993 })
];

const chart = echarts.init(document.getElementById('c'), null, { renderer: 'canvas', width: 1216, height: 1048 });
chart.setOption({
  backgroundColor: '#ffffff',
  animation: false,
  title: titles,
  legend: legends,
  grid: grids,
  xAxis: [
    xAx(0, -2.9, 62.9, 12, yearLabel),
    xAx(1, -2.9, 62.9, 12, yearLabel),
    xAx(2, 9.65, 62.4, 6, ymLabel),
    xAx(3, 9.65, 62.4, 6, ymLabel),
    xAx(4, 3.3, 62.7, 6, ymLabel),
    x6
  ],
  yAxis: [
    yAx(0, 0.829, 4.6, 0.5, 1),
    yAx(1, -0.1726, 0.0082, 0.025, 3),
    yAx(2, 0.0779, 0.1893, 0.02, 2),
    yAx(3, -0.0826, 0.2244, 0.05, 2),
    yAx(4, -0.0331, -0.0059, 0.005, 3),
    y6
  ],
  series: series
});
</script></body></html>
